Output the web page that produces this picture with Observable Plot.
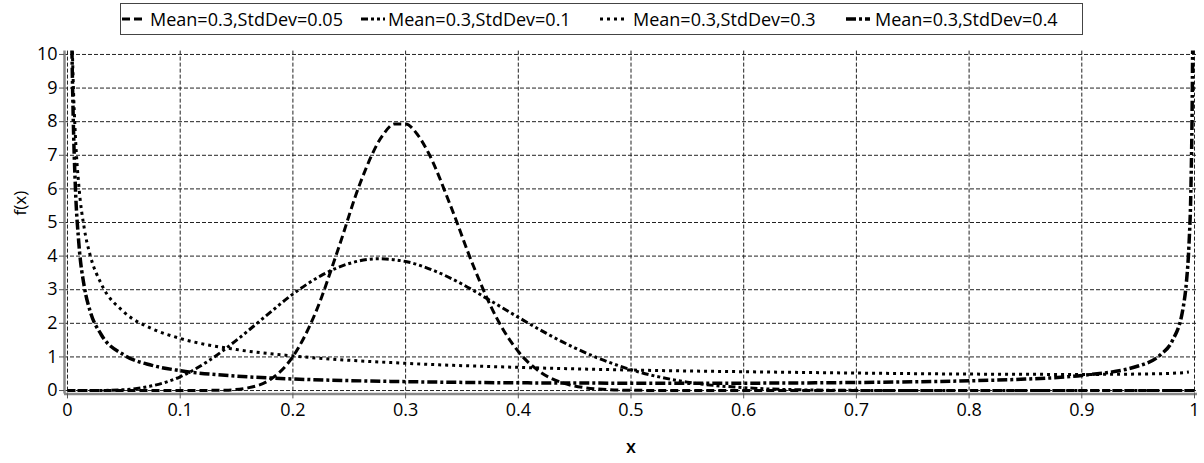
<!DOCTYPE html>
<html>
<head>
<meta charset="utf-8">
<script src="https://cdn.jsdelivr.net/npm/d3@7"></script>
<script src="https://cdn.jsdelivr.net/npm/@observablehq/plot@0.6"></script>
<style>
  html, body { margin: 0; padding: 0; background: #fff; }
  body { width: 1204px; height: 463px; overflow: hidden; font-family: "Open Sans", sans-serif; color: #000; }
  #legend { position: relative; height: 40px; }
  #legend .box { position: absolute; left: 120px; top: 3px; width: 963px; height: 32px; border: 1px solid #444; box-sizing: border-box; }
  #legend .sw { position: absolute; top: 14px; }
  #legend .txt { position: absolute; top: 3px; height: 32px; line-height: 32px; font-size: 18px; white-space: nowrap; }
  #chart svg { display: block; }
  #chart svg [aria-label$="tick label"] text, #chart svg [aria-label$="tick label"] { font-size: 18px; font-family: "Open Sans", sans-serif; fill: #000; }
</style>
</head>
<body>
<div id="legend"><div class="box"></div></div>
<div id="chart"></div>
<script>
// ---- data ----
const seriesNames = ["Mean=0.3,StdDev=0.05", "Mean=0.3,StdDev=0.1", "Mean=0.3,StdDev=0.3", "Mean=0.3,StdDev=0.4"];

const x1 = [0, 0.1, 0.14, 0.16, 0.18, 0.2, 0.22, 0.24, 0.26, 0.28, 0.29, 0.3, 0.31, 0.32, 0.34, 0.36, 0.38, 0.4, 0.42, 0.44, 0.46, 0.48, 0.5, 0.55, 0.6, 1];
const y1 = [0, 0, 0.012, 0.08, 0.33, 1.01, 2.31, 4.19, 6.2, 7.61, 7.93, 7.93, 7.64, 7.09, 5.49, 3.72, 2.21, 1.16, 0.54, 0.22, 0.08, 0.027, 0.008, 0.001, 0, 0];

const x2 = [0, 0.025, 0.05, 0.075, 0.1, 0.125, 0.15, 0.175, 0.2, 0.225, 0.25, 0.275, 0.3, 0.325, 0.35, 0.375, 0.4, 0.425, 0.45, 0.475, 0.5, 0.55, 0.6, 0.65, 0.7, 0.8, 1];
const y2 = [0, 0.001, 0.026, 0.14, 0.41, 0.88, 1.5, 2.19, 2.87, 3.42, 3.78, 3.92, 3.84, 3.57, 3.17, 2.68, 2.18, 1.7, 1.27, 0.91, 0.62, 0.25, 0.085, 0.022, 0.005, 0, 0];

const x3 = [0.003, 0.004, 0.005, 0.007, 0.01, 0.015, 0.02, 0.03, 0.05, 0.075, 0.1, 0.15, 0.2, 0.3, 0.4, 0.5, 0.6, 0.7, 0.8, 0.9, 0.95, 0.99, 0.995];
const y3 = [12.6, 10.6, 9.27, 7.58, 6.12, 4.8, 4.04, 3.17, 2.34, 1.84, 1.55, 1.22, 1.03, 0.81, 0.69, 0.61, 0.56, 0.52, 0.49, 0.48, 0.49, 0.53, 0.55];

const x4 = [0.003, 0.004, 0.005, 0.007, 0.01, 0.015, 0.02, 0.03, 0.05, 0.075, 0.1, 0.15, 0.2, 0.3, 0.4, 0.5, 0.6, 0.7, 0.8, 0.85, 0.9, 0.95, 0.97, 0.98, 0.99, 0.993, 0.995, 0.997, 0.998, 0.9985];
const y4 = [13.0, 10.05, 8.24, 6.05, 4.41, 3.07, 2.37, 1.66, 1.06, 0.75, 0.59, 0.43, 0.345, 0.265, 0.23, 0.22, 0.22, 0.24, 0.29, 0.34, 0.45, 0.73, 1.07, 1.46, 2.48, 3.29, 4.27, 6.32, 8.67, 10.86];

const xTicks = [0, 0.1, 0.2, 0.3, 0.4, 0.5, 0.6, 0.7, 0.8, 0.9, 1];
const xTickLabels = ["0", "0.1", "0.2", "0.3", "0.4", "0.5", "0.6", "0.7", "0.8", "0.9", "1"];
const yTicks = [0, 1, 2, 3, 4, 5, 6, 7, 8, 9, 10];
const yTickLabels = ["0", "1", "2", "3", "4", "5", "6", "7", "8", "9", "10"];
const xAxisLabel = "x";
const yAxisLabel = "f(x)";

// ---- styles ----
const styles = [
  {dash: "8,4", width: 3},
  {dash: "7,3,3,3,3,3", width: 3},
  {dash: "3,4", width: 3},
  {dash: "10,3,3,3", width: 3.5}
];

const rows = (xs, ys, s) => xs.map((x, i) => ({x, y: ys[i], s}));
const data = [
  ...rows(x1, y1, seriesNames[0]),
  ...rows(x2, y2, seriesNames[1]),
  ...rows(x3, y3, seriesNames[2]),
  ...rows(x4, y4, seriesNames[3])
];

const xDom = [-0.00266, 1.00266];
const yDom = [-0.1, 10.1];

const lineMarks = seriesNames.map((name, i) =>
  Plot.line(data.filter(d => d.s === name), {
    x: "x", y: "y", stroke: "#000", strokeWidth: styles[i].width,
    strokeDasharray: styles[i].dash, strokeLinecap: "butt", strokeLinejoin: "round",
    curve: "monotone-x", clip: true
  })
);

const chart = Plot.plot({
  width: 1204, height: 423,
  marginTop: 10.6, marginBottom: 69.6, marginLeft: 64, marginRight: 7,
  x: {domain: xDom, label: null},
  y: {domain: yDom, label: null},
  style: {fontFamily: "'Open Sans', sans-serif", fontSize: "18px", color: "#000", background: "#fff", overflow: "visible"},
  marks: [
    Plot.gridX(xTicks, {stroke: "#222", strokeOpacity: 1, strokeWidth: 1, strokeDasharray: "4,2"}),
    Plot.gridY(yTicks, {stroke: "#222", strokeOpacity: 1, strokeWidth: 1, strokeDasharray: "4,2"}),
    Plot.ruleX([xDom[0]], {stroke: "#888", strokeWidth: 2.5}),
    Plot.ruleY([yDom[0]], {stroke: "#888", strokeWidth: 2.5}),
    Plot.axisX(xTicks, {tickSize: 5, tickPadding: 4, stroke: "#555", fontSize: 18, fill: "#000",
      tickFormat: d => xTickLabels[xTicks.indexOf(d)], label: null}),
    Plot.axisY(yTicks, {tickSize: 5, tickPadding: 2, stroke: "#555", fontSize: 18, fill: "#000",
      tickFormat: d => yTickLabels[yTicks.indexOf(d)], label: null}),
    ...lineMarks,
    Plot.text([xAxisLabel], {frameAnchor: "bottom", dy: 59, fontSize: 18, fontWeight: 600, fill: "#000"}),
    Plot.text([yAxisLabel], {frameAnchor: "left", dx: -44, dy: -7, rotate: -90, fontSize: 17, fill: "#000"})
  ]
});
document.getElementById("chart").appendChild(chart);

// ---- legend ----
const legend = document.getElementById("legend");
const swatchLefts = [122, 361, 600, 846];
const textLefts = [150, 388, 633, 875];
seriesNames.forEach((name, i) => {
  const sw = d3.create("svg").attr("class", "sw").attr("width", 24).attr("height", 10)
    .style("left", swatchLefts[i] + "px");
  sw.append("line").attr("x1", 0).attr("x2", 24).attr("y1", 5).attr("y2", 5)
    .attr("stroke", "#000").attr("stroke-width", styles[i].width).attr("stroke-dasharray", styles[i].dash);
  legend.appendChild(sw.node());
  const t = document.createElement("div");
  t.className = "txt";
  t.style.left = textLefts[i] + "px";
  t.textContent = name;
  legend.appendChild(t);
});
</script>
</body>
</html>
